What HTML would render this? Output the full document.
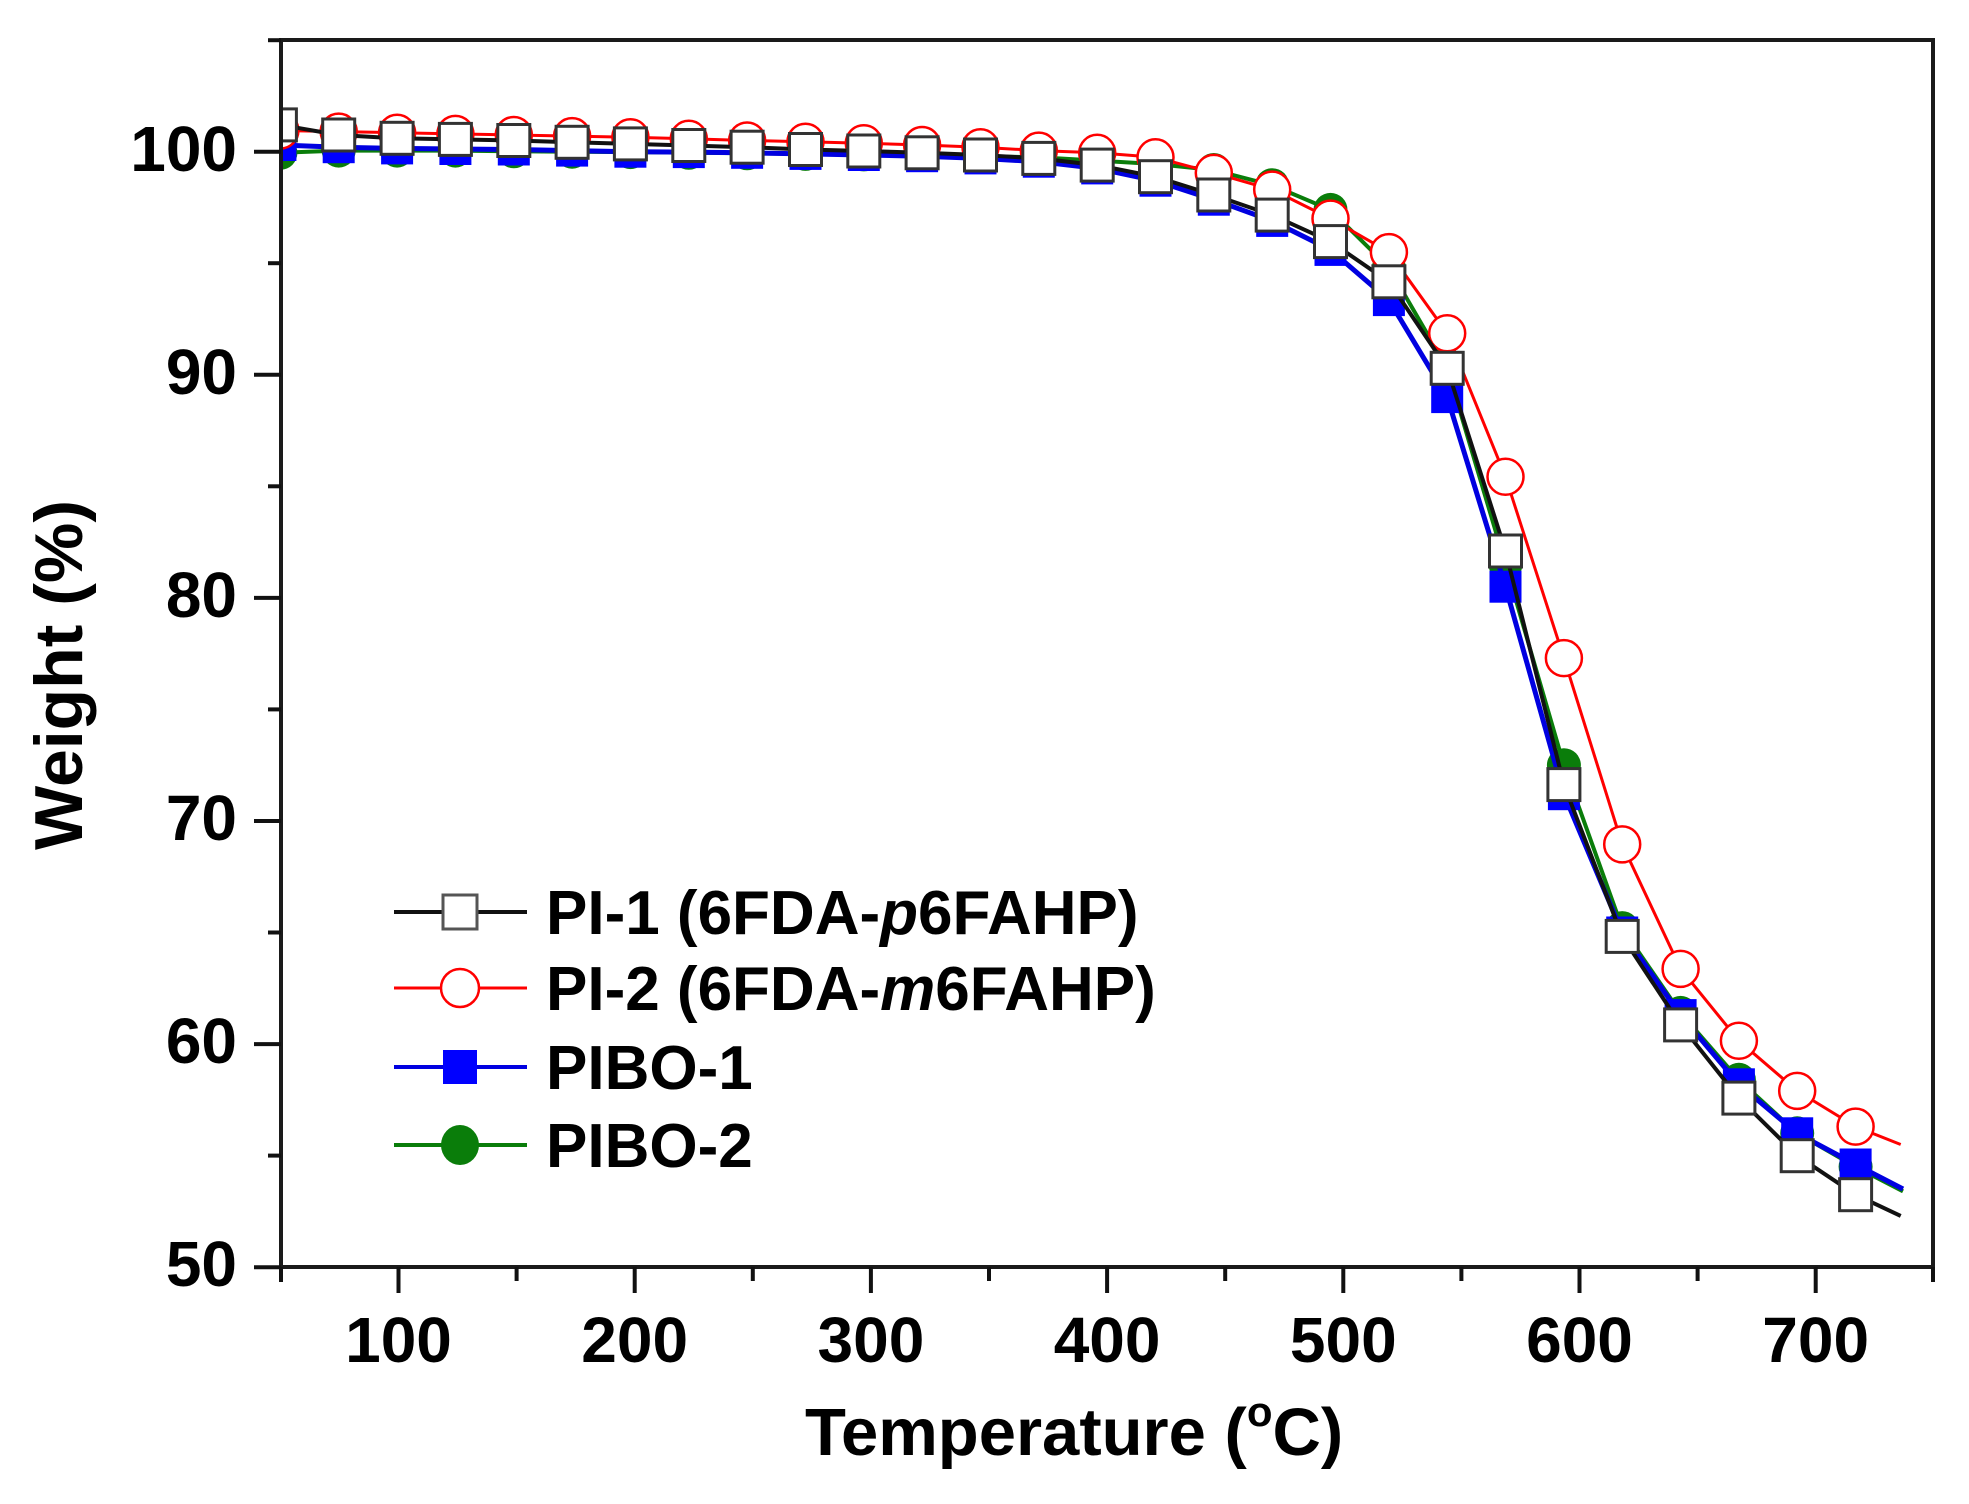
<!DOCTYPE html>
<html><head><meta charset="utf-8"><style>
html,body{margin:0;padding:0;background:#fff;}
svg{display:block;}
text{font-family:"Liberation Sans",Arial,sans-serif;font-weight:bold;fill:#000;}
</style></head><body>
<svg width="1969" height="1504" viewBox="0 0 1969 1504" xmlns="http://www.w3.org/2000/svg">
<defs>
<clipPath id="plot"><rect x="281" y="40" width="1652" height="1227"/></clipPath>
<rect id="sq" x="-16" y="-16" width="32" height="32" fill="#fff" stroke="#333" stroke-width="3"/>
<circle id="ci" r="18" fill="#fff" stroke="#f00" stroke-width="2.5"/>
<rect id="bs" x="-16" y="-16" width="32" height="32" fill="#00f"/>
<circle id="gc" r="17" fill="#0a7d0a"/>
</defs>
<rect width="1969" height="1504" fill="#fff"/>

<g clip-path="url(#plot)">
<!-- Green PIBO-2 -->
<polyline fill="none" stroke="#0a7d0a" stroke-width="4" stroke-linejoin="round" points="280.4,152.8 338.7,150.6 397.1,150.6 455.4,150.6 513.8,151.3 572.1,151.7 630.4,152.1 688.8,152.8 747.1,153.3 805.5,153.9 863.8,154.4 922.1,155.0 980.5,156.2 1038.8,157.3 1097.2,160.6 1155.5,164.0 1213.8,170.0 1272.2,185.2 1330.5,209.9 1388.9,267.7 1447.2,368.1 1505.5,564.4 1563.9,765.2 1622.2,928.1 1680.6,1012.9 1738.9,1079.8 1797.2,1133.3 1855.6,1166.8 1903,1191.3"/>
<g>
<use href="#gc" x="280.4" y="152.8"/><use href="#gc" x="338.7" y="150.6"/><use href="#gc" x="397.1" y="150.6"/><use href="#gc" x="455.4" y="150.6"/><use href="#gc" x="513.8" y="151.3"/><use href="#gc" x="572.1" y="151.7"/><use href="#gc" x="630.4" y="152.1"/><use href="#gc" x="688.8" y="152.8"/><use href="#gc" x="747.1" y="153.3"/><use href="#gc" x="805.5" y="153.9"/><use href="#gc" x="863.8" y="154.4"/><use href="#gc" x="922.1" y="155.0"/><use href="#gc" x="980.5" y="156.2"/><use href="#gc" x="1038.8" y="157.3"/><use href="#gc" x="1097.2" y="160.6"/><use href="#gc" x="1155.5" y="164.0"/><use href="#gc" x="1213.8" y="170.0"/><use href="#gc" x="1272.2" y="185.2"/><use href="#gc" x="1330.5" y="209.9"/><use href="#gc" x="1388.9" y="267.7"/><use href="#gc" x="1447.2" y="368.1"/><use href="#gc" x="1505.5" y="564.4"/><use href="#gc" x="1563.9" y="765.2"/><use href="#gc" x="1622.2" y="928.1"/><use href="#gc" x="1680.6" y="1012.9"/><use href="#gc" x="1738.9" y="1079.8"/><use href="#gc" x="1797.2" y="1133.3"/><use href="#gc" x="1855.6" y="1166.8"/>
</g>

<!-- Blue PIBO-1 -->
<polyline fill="none" stroke="#0000e0" stroke-width="5" stroke-linejoin="round" points="280.4,145.0 338.7,147.2 397.1,148.4 455.4,149.0 513.8,149.5 572.1,150.6 630.4,151.7 688.8,152.1 747.1,152.8 805.5,153.9 863.8,155.0 922.1,156.2 980.5,158.4 1038.8,161.7 1097.2,168.4 1155.5,180.7 1213.8,199.7 1272.2,220.9 1330.5,249.9 1388.9,300.1 1447.2,397.1 1505.5,586.7 1563.9,794.2 1622.2,932.5 1680.6,1015.1 1738.9,1084.3 1797.2,1133.3 1855.6,1164.5 1903,1189.0"/>
<g>
<use href="#bs" x="280.4" y="145.0"/><use href="#bs" x="338.7" y="147.2"/><use href="#bs" x="397.1" y="148.4"/><use href="#bs" x="455.4" y="149.0"/><use href="#bs" x="513.8" y="149.5"/><use href="#bs" x="572.1" y="150.6"/><use href="#bs" x="630.4" y="151.7"/><use href="#bs" x="688.8" y="152.1"/><use href="#bs" x="747.1" y="152.8"/><use href="#bs" x="805.5" y="153.9"/><use href="#bs" x="863.8" y="155.0"/><use href="#bs" x="922.1" y="156.2"/><use href="#bs" x="980.5" y="158.4"/><use href="#bs" x="1038.8" y="161.7"/><use href="#bs" x="1097.2" y="168.4"/><use href="#bs" x="1155.5" y="180.7"/><use href="#bs" x="1213.8" y="199.7"/><use href="#bs" x="1272.2" y="220.9"/><use href="#bs" x="1330.5" y="249.9"/><use href="#bs" x="1388.9" y="300.1"/><use href="#bs" x="1447.2" y="397.1"/><use href="#bs" x="1505.5" y="586.7"/><use href="#bs" x="1563.9" y="794.2"/><use href="#bs" x="1622.2" y="932.5"/><use href="#bs" x="1680.6" y="1015.1"/><use href="#bs" x="1738.9" y="1084.3"/><use href="#bs" x="1797.2" y="1133.3"/><use href="#bs" x="1855.6" y="1164.5"/>
</g>

<!-- Red PI-2 -->
<polyline fill="none" stroke="#f00" stroke-width="3" stroke-linejoin="round" points="280.4,130.5 338.7,131.6 397.1,132.7 455.4,133.9 513.8,135.0 572.1,136.1 630.4,137.2 688.8,138.8 747.1,140.5 805.5,141.7 863.8,143.2 922.1,145.0 980.5,147.2 1038.8,150.6 1097.2,152.8 1155.5,157.3 1213.8,172.9 1272.2,189.6 1330.5,218.6 1388.9,252.1 1447.2,333.3 1505.5,476.8 1563.9,658.1 1622.2,844.4 1680.6,968.9 1738.9,1040.8 1797.2,1090.9 1855.6,1126.6 1900.7,1144.5"/>
<g>
<use href="#ci" x="280.4" y="130.5"/><use href="#ci" x="338.7" y="131.6"/><use href="#ci" x="397.1" y="132.7"/><use href="#ci" x="455.4" y="133.9"/><use href="#ci" x="513.8" y="135.0"/><use href="#ci" x="572.1" y="136.1"/><use href="#ci" x="630.4" y="137.2"/><use href="#ci" x="688.8" y="138.8"/><use href="#ci" x="747.1" y="140.5"/><use href="#ci" x="805.5" y="141.7"/><use href="#ci" x="863.8" y="143.2"/><use href="#ci" x="922.1" y="145.0"/><use href="#ci" x="980.5" y="147.2"/><use href="#ci" x="1038.8" y="150.6"/><use href="#ci" x="1097.2" y="152.8"/><use href="#ci" x="1155.5" y="157.3"/><use href="#ci" x="1213.8" y="172.9"/><use href="#ci" x="1272.2" y="189.6"/><use href="#ci" x="1330.5" y="218.6"/><use href="#ci" x="1388.9" y="252.1"/><use href="#ci" x="1447.2" y="333.3"/><use href="#ci" x="1505.5" y="476.8"/><use href="#ci" x="1563.9" y="658.1"/><use href="#ci" x="1622.2" y="844.4"/><use href="#ci" x="1680.6" y="968.9"/><use href="#ci" x="1738.9" y="1040.8"/><use href="#ci" x="1797.2" y="1090.9"/><use href="#ci" x="1855.6" y="1126.6"/>
</g>

<!-- Black PI-1 -->
<polyline fill="none" stroke="#111" stroke-width="4" stroke-linejoin="round" points="280.4,124.9 338.7,135.0 397.1,138.3 455.4,139.4 513.8,140.5 572.1,142.3 630.4,143.9 688.8,145.5 747.1,147.2 805.5,149.5 863.8,151.0 922.1,152.8 980.5,155.0 1038.8,158.4 1097.2,165.1 1155.5,176.7 1213.8,195.0 1272.2,215.1 1330.5,241.6 1388.9,281.8 1447.2,368.3 1505.5,551.0 1563.9,784.6 1622.2,936.4 1680.6,1024.9 1738.9,1098.1 1797.2,1155.7 1855.6,1194.7 1900.7,1215.9"/>
<g>
<use href="#sq" x="280.4" y="124.9"/><use href="#sq" x="338.7" y="135.0"/><use href="#sq" x="397.1" y="138.3"/><use href="#sq" x="455.4" y="139.4"/><use href="#sq" x="513.8" y="140.5"/><use href="#sq" x="572.1" y="142.3"/><use href="#sq" x="630.4" y="143.9"/><use href="#sq" x="688.8" y="145.5"/><use href="#sq" x="747.1" y="147.2"/><use href="#sq" x="805.5" y="149.5"/><use href="#sq" x="863.8" y="151.0"/><use href="#sq" x="922.1" y="152.8"/><use href="#sq" x="980.5" y="155.0"/><use href="#sq" x="1038.8" y="158.4"/><use href="#sq" x="1097.2" y="165.1"/><use href="#sq" x="1155.5" y="176.7"/><use href="#sq" x="1213.8" y="195.0"/><use href="#sq" x="1272.2" y="215.1"/><use href="#sq" x="1330.5" y="241.6"/><use href="#sq" x="1388.9" y="281.8"/><use href="#sq" x="1447.2" y="368.3"/><use href="#sq" x="1505.5" y="551.0"/><use href="#sq" x="1563.9" y="784.6"/><use href="#sq" x="1622.2" y="936.4"/><use href="#sq" x="1680.6" y="1024.9"/><use href="#sq" x="1738.9" y="1098.1"/><use href="#sq" x="1797.2" y="1155.7"/><use href="#sq" x="1855.6" y="1194.7"/>
</g>
</g>

<!-- Axes frame -->
<rect x="281" y="40" width="1652" height="1227" fill="none" stroke="#1a1a1a" stroke-width="4"/>

<!-- Y ticks -->
<g stroke="#111" stroke-width="4">
<line x1="254" y1="151.7" x2="281" y2="151.7"/>
<line x1="254" y1="374.8" x2="281" y2="374.8"/>
<line x1="254" y1="597.9" x2="281" y2="597.9"/>
<line x1="254" y1="821.0" x2="281" y2="821.0"/>
<line x1="254" y1="1044.1" x2="281" y2="1044.1"/>
<line x1="254" y1="1267.2" x2="281" y2="1267.2"/>
<line x1="268" y1="40.2" x2="281" y2="40.2"/>
<line x1="268" y1="263.2" x2="281" y2="263.2"/>
<line x1="268" y1="486.3" x2="281" y2="486.3"/>
<line x1="268" y1="709.4" x2="281" y2="709.4"/>
<line x1="268" y1="932.5" x2="281" y2="932.5"/>
<line x1="268" y1="1155.6" x2="281" y2="1155.6"/>
</g>
<!-- X ticks -->
<g stroke="#111" stroke-width="4">
<line x1="398.5" y1="1267" x2="398.5" y2="1293"/>
<line x1="634.7" y1="1267" x2="634.7" y2="1293"/>
<line x1="870.9" y1="1267" x2="870.9" y2="1293"/>
<line x1="1107.1" y1="1267" x2="1107.1" y2="1293"/>
<line x1="1343.3" y1="1267" x2="1343.3" y2="1293"/>
<line x1="1579.5" y1="1267" x2="1579.5" y2="1293"/>
<line x1="1815.7" y1="1267" x2="1815.7" y2="1293"/>
<line x1="281" y1="1267" x2="281" y2="1282"/>
<line x1="516.6" y1="1267" x2="516.6" y2="1281"/>
<line x1="752.8" y1="1267" x2="752.8" y2="1281"/>
<line x1="989" y1="1267" x2="989" y2="1281"/>
<line x1="1225.2" y1="1267" x2="1225.2" y2="1281"/>
<line x1="1461.4" y1="1267" x2="1461.4" y2="1281"/>
<line x1="1697.6" y1="1267" x2="1697.6" y2="1281"/>
<line x1="1933" y1="1267" x2="1933" y2="1282"/>
</g>

<!-- Y tick labels -->
<g font-size="64" text-anchor="end">
<text x="237" y="171">100</text>
<text x="237" y="394">90</text>
<text x="237" y="617">80</text>
<text x="237" y="840">70</text>
<text x="237" y="1063">60</text>
<text x="237" y="1286">50</text>
</g>
<!-- X tick labels -->
<g font-size="64" text-anchor="middle">
<text x="398.5" y="1362">100</text>
<text x="634.7" y="1362">200</text>
<text x="870.9" y="1362">300</text>
<text x="1107.1" y="1362">400</text>
<text x="1343.3" y="1362">500</text>
<text x="1579.5" y="1362">600</text>
<text x="1815.7" y="1362">700</text>
</g>

<!-- Axis titles -->
<text x="805" y="1455" font-size="67">Temperature (<tspan font-size="42" dy="-29">o</tspan><tspan dy="29">C)</tspan></text>
<text transform="translate(82,675) rotate(-90)" text-anchor="middle" font-size="68" textLength="350" lengthAdjust="spacingAndGlyphs">Weight (%)</text>

<!-- Legend -->
<g>
<line x1="394" y1="912" x2="527" y2="912" stroke="#111" stroke-width="4"/>
<rect x="443" y="895" width="34" height="34" fill="#fff" stroke="#555" stroke-width="3"/>
<text x="546" y="934" font-size="62">PI-1 (6FDA-<tspan font-style="italic">p</tspan>6FAHP)</text>

<line x1="394" y1="988" x2="527" y2="988" stroke="#f00" stroke-width="3"/>
<ellipse cx="460" cy="988" rx="19" ry="19" fill="#fff" stroke="#f00" stroke-width="2.5"/>
<text x="546" y="1010" font-size="62">PI-2 (6FDA-<tspan font-style="italic">m</tspan>6FAHP)</text>

<line x1="394" y1="1067" x2="527" y2="1067" stroke="#0000e0" stroke-width="4"/>
<rect x="443" y="1050" width="34" height="34" fill="#00f"/>
<text x="546" y="1089" font-size="62">PIBO-1</text>

<line x1="394" y1="1145" x2="527" y2="1145" stroke="#0a7d0a" stroke-width="4"/>
<ellipse cx="460" cy="1145" rx="19" ry="20" fill="#0a7d0a"/>
<text x="546" y="1167" font-size="62">PIBO-2</text>
</g>
</svg>
</body></html>
